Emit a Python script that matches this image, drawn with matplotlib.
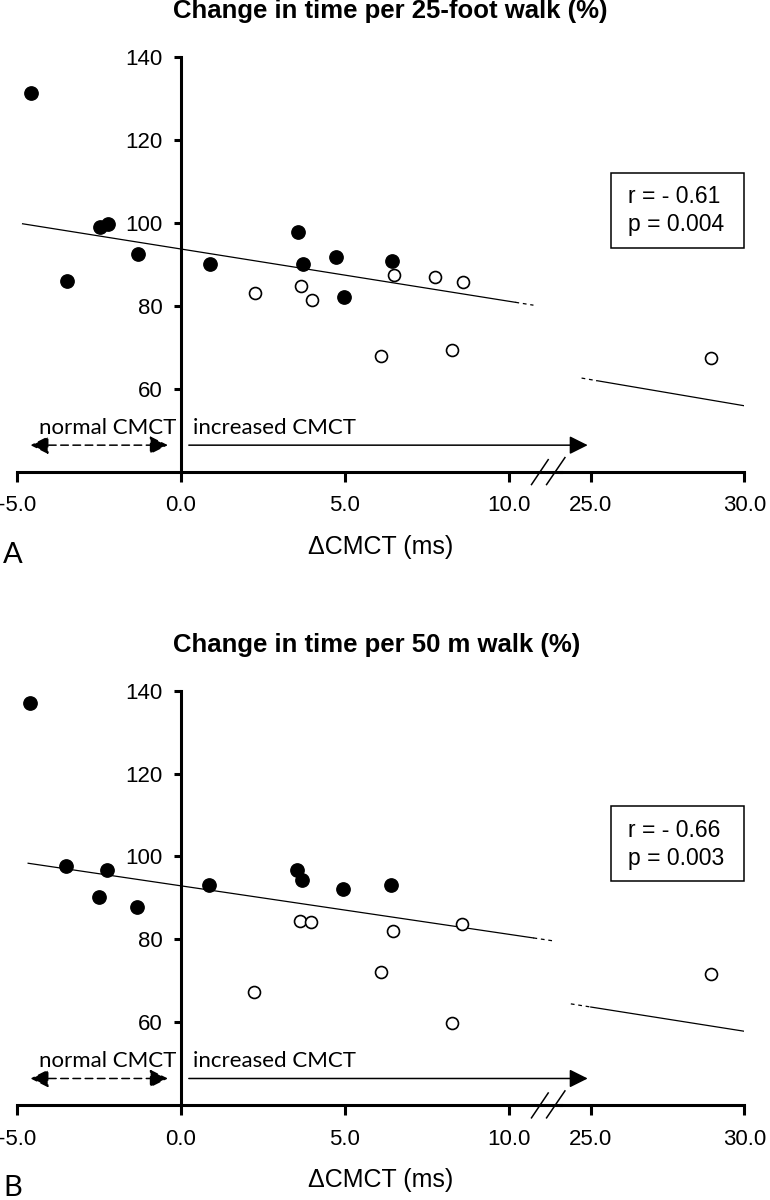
import matplotlib.pyplot as plt
from matplotlib.patches import Rectangle

# panel A - change in time per 25-foot walk
a_filled_x = [-4.57, -3.48, -2.48, -2.22, -1.32, 0.89, 3.56, 3.72, 4.74, 4.96, 6.44]
a_filled_y = [131.4, 86.1, 98.9, 99.8, 92.5, 90.0, 97.7, 90.0, 91.7, 82.2, 90.8]
a_open_x = [2.26, 3.66, 4.00, 6.09, 6.49, 7.74, 8.26, 8.60, 28.9]
a_open_y = [83.1, 84.8, 81.4, 67.8, 87.5, 86.9, 69.4, 85.7, 67.4]
a_fit = (93.7, -1.26)          # intercept, slope
a_fit_ends = (-4.83, 10.2, 10.75, 24.7, 25.2)
a_stats = ["r = - 0.61", "p = 0.004"]

# panel B - change in time per 50 m walk
b_filled_x = [-4.60, -3.52, -2.50, -2.27, -1.35, 0.87, 3.54, 3.69, 4.94, 6.42]
b_filled_y = [137.0, 97.7, 90.1, 96.7, 87.7, 93.1, 96.8, 94.4, 92.1, 93.1]
b_open_x = [2.23, 3.64, 3.98, 6.09, 6.46, 8.26, 8.58, 28.9]
b_open_y = [67.3, 84.5, 84.1, 72.1, 81.9, 59.9, 83.7, 71.5]
b_fit = (92.9, -1.17)
b_fit_ends = (-4.66, 10.75, 11.35, 24.35, 25.0)
b_stats = ["r = - 0.66", "p = 0.003"]

y_ticks = [60, 80, 100, 120, 140]
left_ticks = [-5, 0, 5, 10]
right_ticks = [25, 30]

ARIAL = "Liberation Sans"
CAL = ["Lato", "DejaVu Sans"]
W, H = 770, 1200

fig = plt.figure(figsize=(7.7, 12), dpi=100)


def panel(top, bottom, title, fx, fy, ox, oy, fit, ends, stats, letter):
    y0 = 1 - bottom / H
    hh = (bottom - top) / H
    axL = fig.add_axes([17 / W, y0, (561 - 17) / W, hh])
    axR = fig.add_axes([561 / W, y0, (744.3 - 561) / W, hh])
    axL.set_xlim(-5, 11.59)
    axR.set_xlim(24.03, 30)
    for ax in (axL, axR):
        ax.set_ylim(40, 140)
        ax.patch.set_visible(False)
        for s in ("top", "right"):
            ax.spines[s].set_visible(False)
        ax.spines["bottom"].set_linewidth(2.2)
        ax.tick_params(axis="x", direction="out", length=7, width=2.2, pad=10,
                       labelsize=16)
    axL.spines["left"].set_position(("data", 0))
    axL.spines["left"].set_linewidth(2.2)
    axL.set_yticks(y_ticks)
    axL.set_yticklabels([str(v) for v in y_ticks], family=ARIAL, fontsize=16)
    axL.tick_params(axis="y", direction="out", length=5, width=2.2, pad=8)
    axR.spines["left"].set_visible(False)
    axR.set_yticks([])
    axL.set_xticks(left_ticks)
    axL.set_xticklabels([f"{v:.1f}" for v in left_ticks], family=ARIAL, fontsize=16)
    axR.set_xticks(right_ticks)
    axR.set_xticklabels([f"{v:.1f}" for v in right_ticks], family=ARIAL, fontsize=16)

    # points
    for ax in (axL, axR):
        ax.plot(ox, oy, "o", ms=8.6, mfc="white", mec="black", mew=1.2,
                ls="none", zorder=3)
        ax.plot(fx, fy, "o", ms=9.6, color="black", ls="none", zorder=4)

    # regression line, dashed near the break
    b0, b1 = fit
    x0, x1, x2, x3, x4 = ends
    axL.plot([x0, x1], [b0 + b1 * x0, b0 + b1 * x1], color="black", lw=0.9)
    axL.plot([x1, x2], [b0 + b1 * x1, b0 + b1 * x2], color="black", lw=0.9,
             ls=(0, (3, 3)))
    axR.plot([x3, x4], [b0 + b1 * x3, b0 + b1 * x4], color="black", lw=0.9,
             ls=(0, (3, 3)))
    axR.plot([x4, 30], [b0 + b1 * x4, b0 + b1 * 30], color="black", lw=0.9)

    # normal / increased CMCT arrows
    ya = 46.4
    axL.annotate("", xy=(-4.59, ya), xytext=(-0.40, ya),
                 arrowprops=dict(arrowstyle="<|-|>", lw=1.1, color="black",
                                 ls=(0, (5, 3)), mutation_scale=28,
                                 shrinkA=0, shrinkB=0))
    axL.annotate("", xy=(24.9, ya), xycoords=axR.transData,
                 xytext=(0.24, ya), textcoords=axL.transData,
                 arrowprops=dict(arrowstyle="-|>", lw=1.1, color="black",
                                 mutation_scale=28, shrinkA=0, shrinkB=0))
    axL.text(-4.33, 50.5, "normal CMCT", family=CAL, fontsize=16,
             ha="left", va="center")
    axL.text(0.37, 50.5, "increased CMCT", family=CAL, fontsize=16,
             ha="left", va="center")

    # axis break marks
    axL.plot([10.69, 11.20], [36.9, 42.9], color="black", lw=1.1, clip_on=False)
    axL.plot([11.15, 11.71], [36.9, 43.4], color="black", lw=1.1, clip_on=False)

    # stats box
    axR.add_patch(Rectangle((25.65, 94.05), 30 - 25.65, 112.1 - 94.05,
                            fill=False, ec="black", lw=1.1, clip_on=False))
    axR.text(26.21, 106.3, stats[0], family=ARIAL, fontsize=16.5,
             ha="left", va="center")
    axR.text(26.21, 99.5, stats[1], family=ARIAL, fontsize=16.5,
             ha="left", va="center")

    # titles and labels
    fig.text(173 / W, 1 - (top - 46) / H, title, family=ARIAL, fontsize=18.5,
             fontweight="bold", ha="left", va="center")
    fig.text(381 / W, 1 - (bottom + 75) / H, "\u0394CMCT (ms)", family=ARIAL,
             fontsize=18, ha="center", va="center")
    fig.text(3 / W, 1 - (bottom + 83) / H, letter, family=CAL, fontsize=21,
             ha="left", va="center")


panel(57, 471.7, "Change in time per 25-foot walk (%)",
      a_filled_x, a_filled_y, a_open_x, a_open_y, a_fit, a_fit_ends, a_stats, "A")
panel(690.7, 1105, "Change in time per 50 m walk (%)",
      b_filled_x, b_filled_y, b_open_x, b_open_y, b_fit, b_fit_ends, b_stats, "B")

fig.savefig("out.png", dpi=100)
